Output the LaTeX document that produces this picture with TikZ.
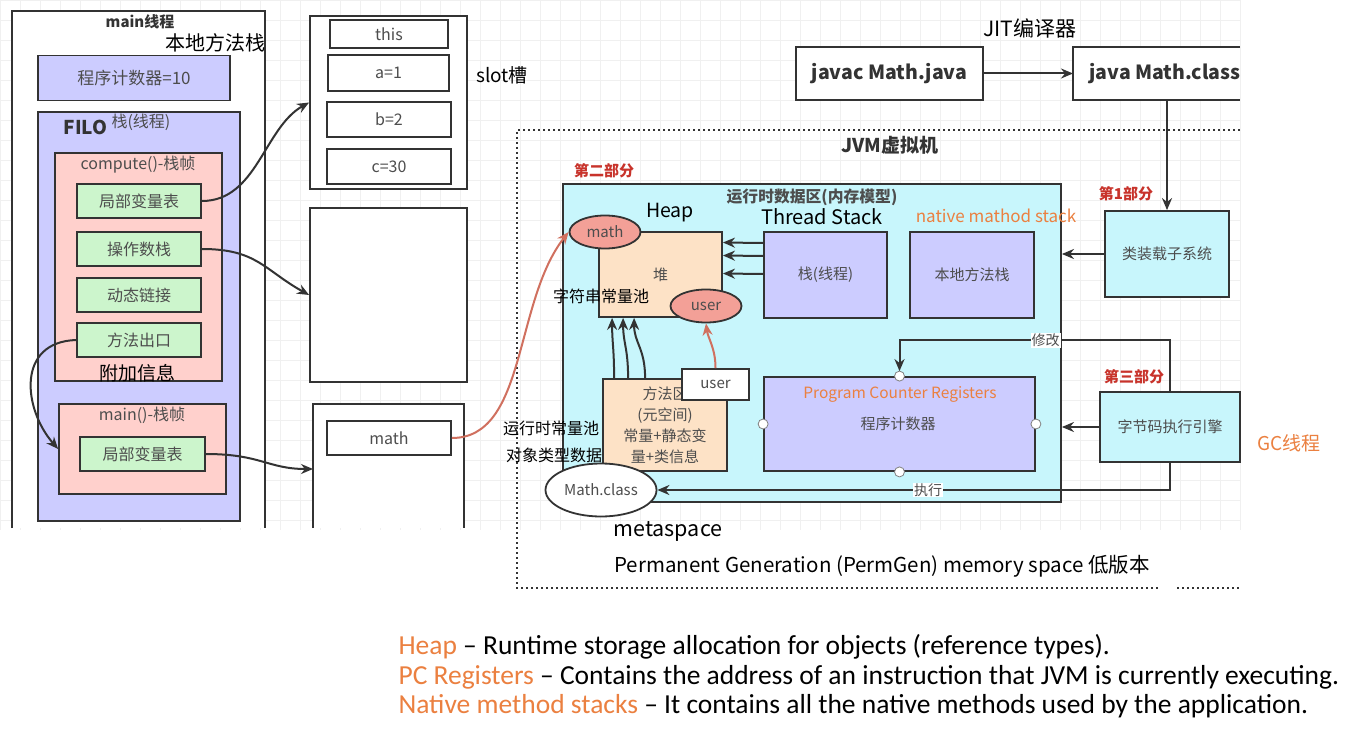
\documentclass[tikz,border=0pt]{standalone}
\usepackage{fontspec}
\setmainfont{Noto Sans CJK SC}
\newfontfamily\calfont{Carlito}
\usetikzlibrary{arrows.meta,shapes.geometric}

\definecolor{linegray}{HTML}{333333}
\definecolor{boxtext}{HTML}{4D4D4D}
\definecolor{lavender}{HTML}{CCCCFF}
\definecolor{framepink}{HTML}{FFD0CC}
\definecolor{slotgreen}{HTML}{CCF5CC}
\definecolor{rdacyan}{HTML}{C8F6FC}
\definecolor{peach}{HTML}{FDE2C6}
\definecolor{salmon}{HTML}{F3A097}
\definecolor{partred}{HTML}{C8332B}
\definecolor{noteorange}{HTML}{EB8040}
\definecolor{refred}{HTML}{D0705F}

\tikzset{
    fsize/.style={font=\fontsize{#1}{#1}\selectfont},
    bsize/.style={font=\bfseries\fontsize{#1}{#1}\selectfont},
    box/.style={draw=linegray, line width=1.8pt, text=boxtext, inner sep=0pt},
    lavbox/.style={box, fill=lavender},
    pinkbox/.style={box, fill=framepink},
    greenbox/.style={box, fill=slotgreen},
    cyanbox/.style={box, fill=rdacyan},
    peachbox/.style={box, fill=peach},
    whitebox/.style={box, fill=white},
    objell/.style={box, ellipse, fill=salmon},
    frame/.style={draw=linegray, line width=1.8pt},
    dotframe/.style={draw=linegray, line width=2.4pt, dash pattern=on 2pt off 3pt},
    link/.style={draw=linegray, line width=2pt, -{Stealth[length=12pt,width=10pt]}},
    redlink/.style={draw=refred, line width=2pt, -{Stealth[length=12pt,width=10pt]}},
    handle/.style={draw=gray, fill=white, line width=0.8pt},
    lbl/.style={fill=white, inner sep=1pt, text=boxtext, fsize=14},
    note/.style={anchor=west, font=\calfont\fontsize{27.5}{27.5}\selectfont},
    gridline/.style={draw=gray!12, line width=0.5pt}
}

\begin{document}
\begin{tikzpicture}[x=1pt, y=-1pt]
    \useasboundingbox (0,0) rectangle (1364,754);
    \fill[white] (0,0) rectangle (1364,754);
    \foreach \gx in {0,20,...,1240}{
        \draw[gridline] (\gx,0) -- (\gx,530);
    }
    \foreach \gy in {0,20,...,520}{
        \draw[gridline] (0,\gy) -- (1240,\gy);
    }

    % main thread
    \fill[white] (12,11) rectangle (265,528);
    \draw[frame] (12,528) -- (12,11) -- (265,11) -- (265,528);
    \node[bsize=15, text=linegray] (mainthread) at (140,22) {main线程};
    \node[fsize=20] (nativelbl) at (215,43) {本地方法栈};
    \node[lavbox, minimum width=192, minimum height=45, fsize=17] (pcten) at (134,78) {程序计数器=10};
    \node[lavbox, minimum width=202, minimum height=409] (filo) at (139,316.5) {};
    \node[bsize=19, text=linegray, anchor=west] (filolbl) at (60,127) {FILO};
    \node[fsize=16, text=boxtext, anchor=west] (stacklbl) at (108,122) {栈(线程)};

    \node[pinkbox, minimum width=167, minimum height=228] (compute) at (138.5,267) {};
    \node[fsize=16, text=boxtext] (computelbl) at (138,165) {compute()-栈帧};
    \node[greenbox, minimum width=124, minimum height=34, fsize=16] (lvt) at (139,201) {局部变量表};
    \node[greenbox, minimum width=124, minimum height=34, fsize=16] (ops) at (139,249) {操作数栈};
    \node[greenbox, minimum width=124, minimum height=34, fsize=16] (dyn) at (139,295) {动态链接};
    \node[greenbox, minimum width=124, minimum height=34, fsize=16] (exit) at (139,340) {方法出口};
    \node[fsize=19] (extra) at (137,373) {附加信息};

    \node[pinkbox, minimum width=167, minimum height=90] (mainframe) at (142.5,449) {};
    \node[fsize=16, text=boxtext] (mainlbl) at (142,415) {main()-栈帧};
    \node[greenbox, minimum width=125, minimum height=34, fsize=16] (mlvt) at (142.5,454) {局部变量表};

    % slots and frames
    \node[whitebox, minimum width=157, minimum height=173] (slots) at (388.5,102.5) {};
    \node[whitebox, minimum width=118, minimum height=28, fsize=16] (sthis) at (389,34) {this};
    \node[whitebox, minimum width=121, minimum height=36, fsize=16] (sa) at (388.5,73) {a=1};
    \node[whitebox, minimum width=124, minimum height=35, fsize=16] (sb) at (389,119.5) {b=2};
    \node[whitebox, minimum width=124, minimum height=35, fsize=16] (sc) at (389,166.5) {c=30};
    \node[fsize=19] (slotlbl) at (502,75) {slot槽};
    \node[whitebox, minimum width=157, minimum height=174] (opframe) at (388.5,295) {};
    \fill[white] (313,404) rectangle (464,528);
    \draw[frame] (313,528) -- (313,404) -- (464,404) -- (464,528);
    \coordinate (mainin) at (313,469);
    \node[whitebox, minimum width=124, minimum height=34, fsize=16] (mathref) at (389,438) {math};

    \draw[link] (lvt.east) .. controls +(55,0) and +(-45,25) .. (slots.west);
    \draw[link] (ops.east) .. controls +(55,0) and +(-45,-25) .. (opframe.west);
    \draw[link] (mlvt.east) .. controls +(55,0) and +(-45,0) .. (mainin);
    \draw[link] (exit.west) .. controls +(-60,2) and +(-35,-40) .. (mainframe.west);

    % compiler
    \node[fsize=21] (jit) at (1030,28) {JIT编译器};
    \node[whitebox, minimum width=187, minimum height=53, bsize=19.5, text=linegray] (javac) at (889.5,73.5) {javac Math.java};
    \fill[white] (1073,47) rectangle (1240,100);
    \draw[frame] (1240,47) -- (1073,47) -- (1073,100) -- (1240,100);
    \node[bsize=19.5, text=linegray] (javacls) at (1165,74) {java Math.class};
    \coordinate (jcin) at (1073,73.5);
    \coordinate (jcout) at (1167,100);
    \draw[link] (javac.east) -- (jcin);

    % JVM
    \draw[dotframe] (1240,130) -- (517,130) -- (517,588) -- (1160,588);
    \draw[dotframe] (1177,588) -- (1240,588);
    \node[bsize=19, text=linegray] (jvmlbl) at (890,145) {JVM虚拟机};
    \node[bsize=15, text=partred] (part2) at (604,171) {第二部分};

    \node[cyanbox, minimum width=498, minimum height=318] (rda) at (812,343) {};
    \node[bsize=15.8, text=boxtext] (rdalbl) at (812,197) {运行时数据区(内存模型)};
    \node[fsize=19.5] (heaplbl) at (670,213) {Heap};
    \node[fsize=20] (tslbl) at (822,217) {Thread Stack};
    \node[fsize=17, text=noteorange] (nmslbl) at (996,216) {native mathod stack};

    \node[peachbox, minimum width=123, minimum height=85, fsize=15] (heap) at (660.5,274.5) {堆};
    \node[lavbox, minimum width=123, minimum height=86, fsize=15] (tstack) at (825.5,275) {栈(线程)};
    \node[lavbox, minimum width=124, minimum height=86, fsize=15] (nstack) at (972,275) {本地方法栈};
    \node[objell, minimum width=71, minimum height=33, fsize=15] (mathobj) at (605,232) {math};
    \node[objell, minimum width=71, minimum height=33, fsize=15] (userobj) at (706,306) {user};
    \node[fsize=16] (strpool) at (601,296) {字符串常量池};
    \foreach \sh in {32,19,1}{
        \draw[link] ([yshift=\sh pt]tstack.west) -- ([yshift=\sh pt]heap.east);
    }

    \node[peachbox, minimum width=124, minimum height=92, align=center,
          font=\fontsize{15}{21}\selectfont] (method) at (665,425) {方法区\\(元空间)\\常量+静态变\\量+类信息};
    \node[whitebox, minimum width=67, minimum height=31, fsize=15] (userref) at (715.5,384.5) {user};
    \foreach \sa/\ea in {12/14,26/25,43/36}{
        \draw[link] ([xshift=\sa pt]method.north west) .. controls +(0,-30) and +(0,25) .. ([xshift=\ea pt]heap.south west);
    }
    \draw[redlink] (userref.north) .. controls +(0,-20) and +(2,15) .. (userobj.south);
    \draw[redlink] (mathref.east) .. controls +(75,0) and +(-55,70) .. (mathobj.west);

    \node[fsize=16] (rtpool) at (551,428) {运行时常量池};
    \node[fsize=16] (objdata) at (554,455) {对象类型数据};
    \node[box, ellipse, fill=white, minimum width=111, minimum height=53, fsize=15] (mathcls) at (601,490) {Math.class};
    \node[fsize=21.5] (metalbl) at (668,531) {metaspace};
    \node[fsize=20.5] (permlbl) at (882,566) {Permanent Generation (PermGen) memory space 低版本};

    \node[lavbox, minimum width=271, minimum height=94] (pc) at (899.5,424) {};
    \node[fsize=15.5, text=noteorange] (pclbl) at (900,394) {Program Counter Registers};
    \node[fsize=15, text=boxtext] (pccn) at (898,424) {程序计数器};
    \foreach \a in {north,west,east,south}{
        \draw[handle] (pc.\a) circle (5);
    }

    % loader and engine
    \node[bsize=15, text=partred] (part1) at (1126,194) {第1部分};
    \node[cyanbox, minimum width=124, minimum height=86, fsize=15] (loader) at (1167,254) {类装载子系统};
    \node[bsize=15, text=partred] (part3) at (1134,377) {第三部分};
    \node[cyanbox, minimum width=140, minimum height=70, fsize=15] (engine) at (1170,427) {字节码执行引擎};
    \node[fsize=19, text=noteorange] (gclbl) at (1289,443) {GC线程};

    \draw[link] (jcout) -- (loader.north);
    \draw[link] (loader.west) -- (loader.west -| rda.east);
    \draw[link] (engine.west) -- (engine.west -| rda.east);
    \draw[link, shorten >=5pt] (engine.north) -- ++(0,-51) -| node[pos=0.23, lbl] {修改} (pc.north);
    \draw[link] (engine.south) |- node[pos=0.736, lbl] {执行} (mathcls.east);

    % notes
    \node[note] (note1) at (395,647) {\textcolor{noteorange}{Heap} – Runtime storage allocation for objects (reference types).};
    \node[note] (note2) at (395,677) {\textcolor{noteorange}{PC Registers} – Contains the address of an instruction that JVM is currently executing.};
    \node[note] (note3) at (395,706) {\textcolor{noteorange}{Native method stacks} – It contains all the native methods used by the application.};
\end{tikzpicture}
\end{document}
